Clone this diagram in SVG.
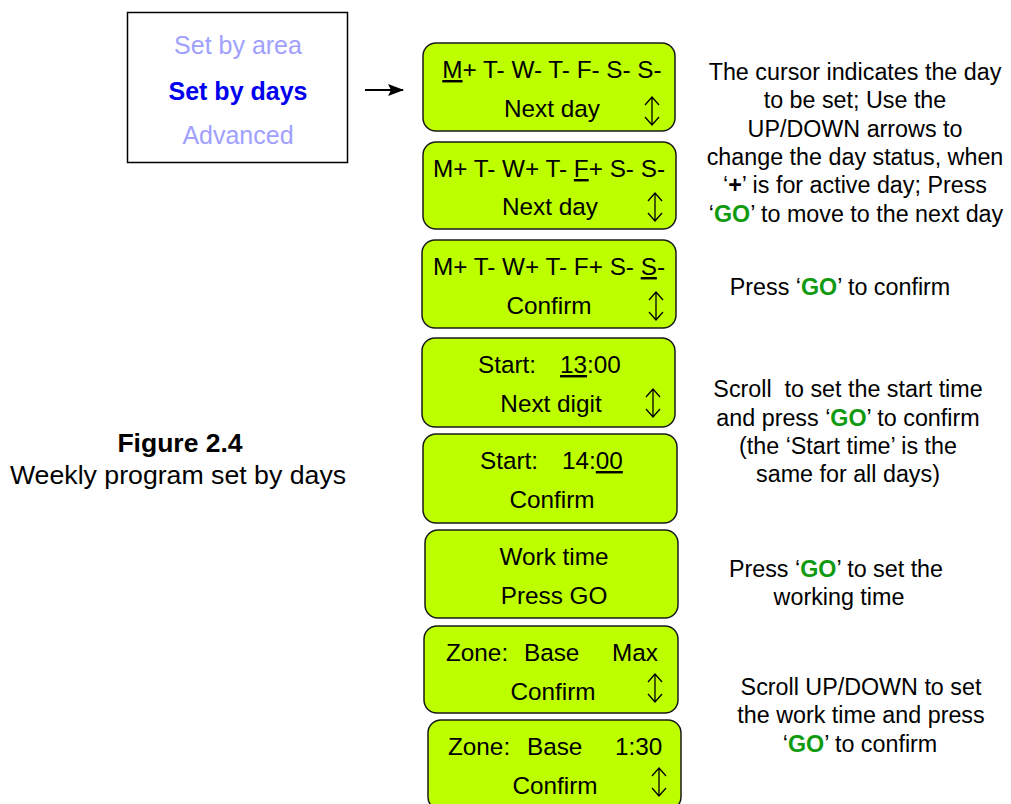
<svg xmlns="http://www.w3.org/2000/svg" width="1011" height="804" viewBox="0 0 1011 804">
<style>
text { font-family: "Liberation Sans", Arial, sans-serif; }
.lcd { fill: #BEFF00; stroke: #1a1a1a; stroke-width: 1.5; }
.lt { font-size: 24.3px; fill: #000; }
.rt { font-size: 23.3px; fill: #000; text-anchor: middle; }
.go { fill: #109A10; font-weight: bold; }
.ud { fill: none; stroke: #000; stroke-width: 1.3; }
.u { text-decoration: underline; }
.mid { text-anchor: middle; }
</style>
<defs>
<g id="updown"><path class="ud" d="M0,-14 V14 M-7,-6 L0,-14 L7,-6 M-7,6 L0,14 L7,6"/></g>
<marker id="ah" markerWidth="16" markerHeight="12" refX="15" refY="6" orient="auto" markerUnits="userSpaceOnUse"><path d="M0,0 L16,6 L0,12 L3,6 z" fill="#000"/></marker>
</defs>
<rect width="1011" height="804" fill="#fff"/>

<g id="menu">
<rect x="127.5" y="12.5" width="220" height="150" fill="#fff" stroke="#000" stroke-width="1.5"/>
<text x="238" y="54" class="mid" font-size="25" fill="#A0A0FF">Set by area</text>
<text x="238" y="100" class="mid" font-size="25" font-weight="bold" fill="#0000EE">Set by days</text>
<text x="238" y="144" class="mid" font-size="25" fill="#A0A0FF">Advanced</text>
</g>

<g id="connectors">
<line x1="365" y1="90" x2="403" y2="90" stroke="#000" stroke-width="2.2" marker-end="url(#ah)"/>
</g>

<g id="lcd1">
<rect class="lcd" x="423" y="43" width="252" height="88" rx="13"/>
<text x="552" y="78" class="lt mid"><tspan class="u">M</tspan>+ T- W- T- F- S- S-</text>
<text x="552" y="117" class="lt mid">Next day</text>
<use href="#updown" x="652" y="111"/>
</g>

<g id="lcd2">
<rect class="lcd" x="423" y="142" width="253" height="87" rx="13"/>
<text x="549" y="177" class="lt mid">M+ T- W+ T- <tspan class="u">F</tspan>+ S- S-</text>
<text x="550" y="215" class="lt mid">Next day</text>
<use href="#updown" x="655" y="207"/>
</g>

<g id="lcd3">
<rect class="lcd" x="422" y="240" width="254" height="88" rx="13"/>
<text x="549" y="275" class="lt mid">M+ T- W+ T- F+ S- <tspan class="u">S</tspan>-</text>
<text x="549" y="314" class="lt mid">Confirm</text>
<use href="#updown" x="656" y="306"/>
</g>

<g id="lcd4">
<rect class="lcd" x="422" y="338" width="253" height="89" rx="13"/>
<text y="373" class="lt"><tspan x="478">Start:</tspan><tspan x="560" class="u">13</tspan>:00</text>
<text x="551" y="412" class="lt mid">Next digit</text>
<use href="#updown" x="653" y="403"/>
</g>

<g id="lcd5">
<rect class="lcd" x="423" y="434" width="254" height="89" rx="13"/>
<text y="469" class="lt"><tspan x="480">Start:</tspan><tspan x="562">14:</tspan><tspan class="u">00</tspan></text>
<text x="552" y="508" class="lt mid">Confirm</text>
</g>

<g id="lcd6">
<rect class="lcd" x="425" y="530" width="253" height="88" rx="13"/>
<text x="554" y="565" class="lt mid">Work time</text>
<text x="554" y="604" class="lt mid">Press GO</text>
</g>

<g id="lcd7">
<rect class="lcd" x="424" y="626" width="254" height="87" rx="13"/>
<text y="661" class="lt"><tspan x="446">Zone:</tspan><tspan x="524">Base</tspan><tspan x="612">Max</tspan></text>
<text x="553" y="700" class="lt mid">Confirm</text>
<use href="#updown" x="655" y="688"/>
</g>

<g id="lcd8">
<rect class="lcd" x="428" y="720" width="253" height="90" rx="13"/>
<text y="755" class="lt"><tspan x="448">Zone:</tspan><tspan x="527">Base</tspan><tspan x="615">1:30</tspan></text>
<text x="555" y="794" class="lt mid">Confirm</text>
<use href="#updown" x="659" y="782"/>
</g>

<g id="caption">
<text x="180" y="452" class="mid" font-size="26.5" font-weight="bold">Figure 2.4</text>
<text x="178" y="484" class="mid" font-size="26.7">Weekly program set by days</text>
</g>

<g id="note1">
<text class="rt" x="855" y="80">The cursor indicates the day</text>
<text class="rt" x="855" y="108">to be set; Use the</text>
<text class="rt" x="855" y="137">UP/DOWN arrows to</text>
<text class="rt" x="855" y="165">change the day status, when</text>
<text class="rt" x="855" y="193">‘<tspan font-weight="bold">+</tspan>’ is for active day; Press</text>
<text class="rt" x="856" y="222">‘<tspan class="go">GO</tspan>’ to move to the next day</text>
</g>

<g id="note2">
<text class="rt" x="840" y="295">Press ‘<tspan class="go">GO</tspan>’ to confirm</text>
</g>

<g id="note3">
<text class="rt" x="848" y="397" xml:space="preserve">Scroll  to set the start time</text>
<text class="rt" x="848" y="426">and press ‘<tspan class="go">GO</tspan>’ to confirm</text>
<text class="rt" x="848" y="454">(the ‘Start time’ is the</text>
<text class="rt" x="848" y="482">same for all days)</text>
</g>

<g id="note4">
<text class="rt" x="836" y="577">Press ‘<tspan class="go">GO</tspan>’ to set the</text>
<text class="rt" x="839" y="605">working time</text>
</g>

<g id="note5">
<text class="rt" x="861" y="695">Scroll UP/DOWN to set</text>
<text class="rt" x="861" y="723">the work time and press</text>
<text class="rt" x="860" y="752">‘<tspan class="go">GO</tspan>’ to confirm</text>
</g>
</svg>
